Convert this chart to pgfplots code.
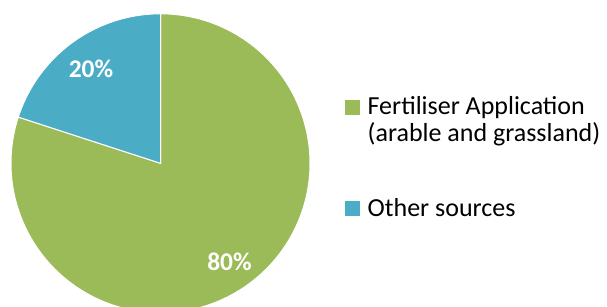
\documentclass[border=0pt]{standalone}
\usepackage{pgfplots}
\pgfplotsset{compat=1.18}
\usepgfplotslibrary{polar}
\usepackage{fontspec}
\setmainfont{Carlito}
\definecolor{pgreen}{HTML}{9BBB59}
\definecolor{pblue}{HTML}{4BACC6}
\begin{document}
\begin{tikzpicture}
\path[use as bounding box] (0,0) rectangle (607bp,307bp);
\begin{polaraxis}[
  at={(160.5bp,143.7bp)}, anchor=center,
  scale only axis, width=299bp, height=299bp,
  hide axis, ymin=0, ymax=1, xmin=0, xmax=360, clip=false,
  font=\fontsize{26bp}{26.7bp}\selectfont,
  legend style={draw=none, fill=none, at={(1.117,0.7318)}, anchor=north west,
    inner sep=0pt, row sep=77.8bp, cells={anchor=base west},
    font=\fontsize{26bp}{26.7bp}\selectfont},
  legend image code/.code={\fill[#1, draw=none] (0bp,0bp) rectangle (15bp,15bp); \path (20bp,0bp);},
]
% Fertiliser Application 80 %, Other sources 20 %; slices start at 90 deg, clockwise
\addplot[fill=pgreen, draw=white, line width=1bp, domain={90-3.6*80}:90, samples=289] {1} -- (axis cs:0,0) -- cycle;
\addlegendentry{\begin{tabular}[t]{@{}l@{}}Fertiliser Application\\(arable and grassland)\end{tabular}}
\addplot[fill=pblue, draw=white, line width=1bp, domain=90:{90+3.6*20}, samples=73] {1} -- (axis cs:0,0) -- cycle;
\addlegendentry{Other sources}
\node[font=\fontsize{25.5bp}{30bp}\selectfont\bfseries, text=white] at (axis cs:126.4,0.783) {20\%};
\node[font=\fontsize{25.5bp}{30bp}\selectfont\bfseries, text=white] at (axis cs:-55,0.805) {80\%};
\end{polaraxis}
\end{tikzpicture}
\end{document}
